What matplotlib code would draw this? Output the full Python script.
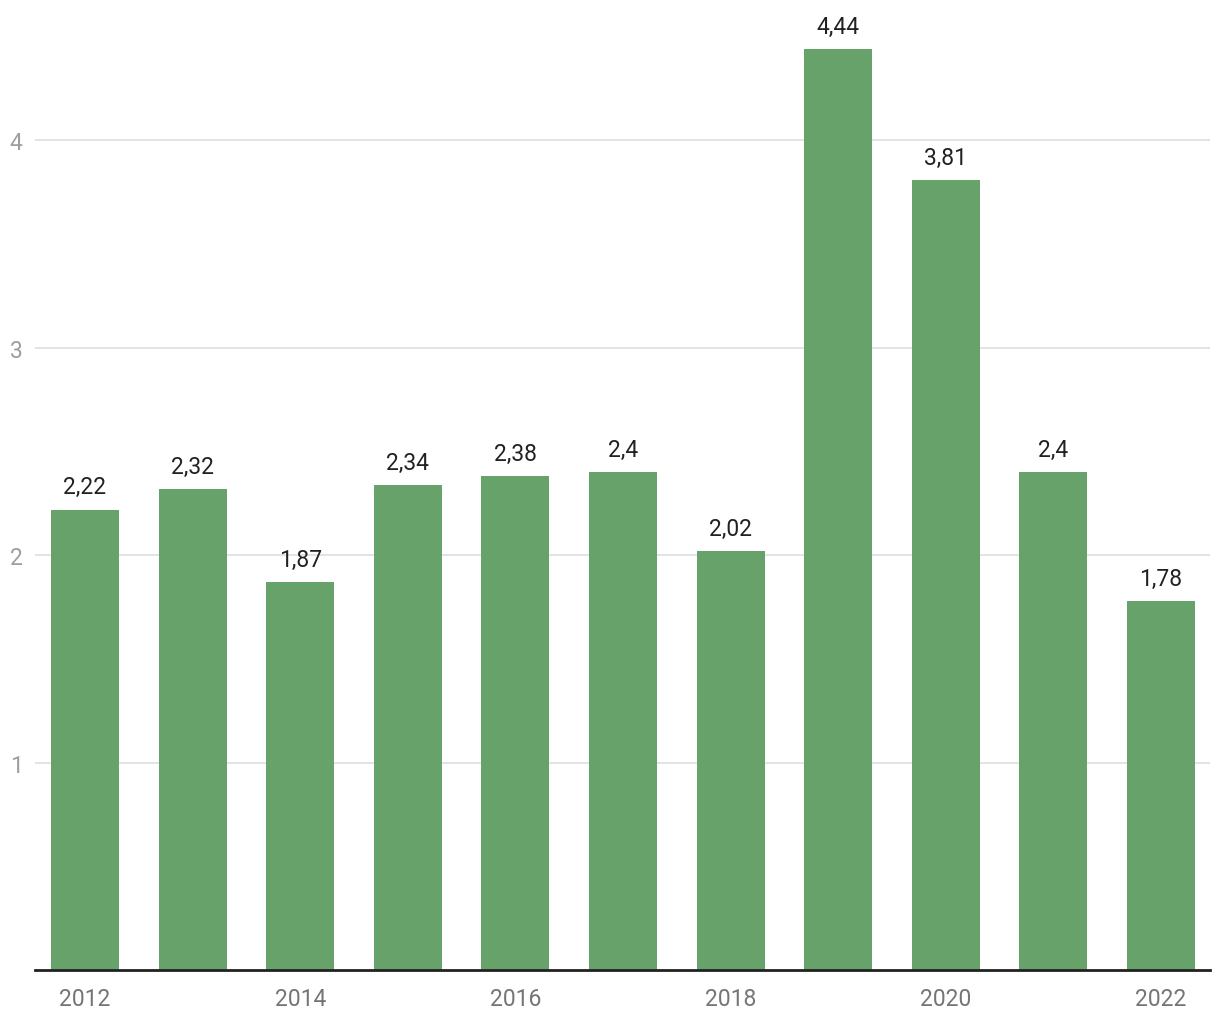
import numpy as np
import matplotlib.pyplot as plt

years = [2012, 2013, 2014, 2015, 2016, 2017, 2018, 2019, 2020, 2021, 2022]
values = [2.22, 2.32, 1.87, 2.34, 2.38, 2.4, 2.02, 4.44, 3.81, 2.4, 1.78]
labels = ["2,22", "2,32", "1,87", "2,34", "2,38", "2,4", "2,02", "4,44", "3,81", "2,4", "1,78"]
yticks = [1, 2, 3, 4]

plt.rcParams["font.family"] = ["Roboto", "DejaVu Sans"]

W, H = 1220, 1020
fig = plt.figure(figsize=(W / 100, H / 100), dpi=100)
ax = fig.add_axes([35 / W, 1 - 971 / H, (1210 - 35) / W, (971 - 12) / H])

x = np.arange(len(years))
bars = ax.bar(x, values, width=0.632, color="#68a26b", zorder=2)

for xi, v, lab in zip(x, values, labels):
    ax.annotate(lab, (xi, v), xytext=(0, 8), textcoords="offset points",
                ha="center", va="bottom", fontsize=16.5, color="#212121")

ax.set_xlim(-0.465, 10.455)
ax.set_ylim(0, (971 - 12) / 207.4)
ax.set_yticks(yticks)
ax.set_yticklabels([str(t) for t in yticks])
ax.set_xticks(x[::2])
ax.set_xticklabels([str(y) for y in years[::2]])

ax.grid(axis="y", color="#e0e0e0", linewidth=1.3, zorder=0)
ax.tick_params(axis="y", length=0, pad=9, labelsize=16.5, labelcolor="#9e9e9e")
ax.tick_params(axis="x", length=0, pad=12, labelsize=16.5, labelcolor="#757575")
for s in ["top", "right", "left"]:
    ax.spines[s].set_visible(False)
ax.spines["bottom"].set_color("#212121")
ax.spines["bottom"].set_linewidth(2)
ax.spines["bottom"].set_zorder(3)

fig.savefig("out.png", dpi=100)
